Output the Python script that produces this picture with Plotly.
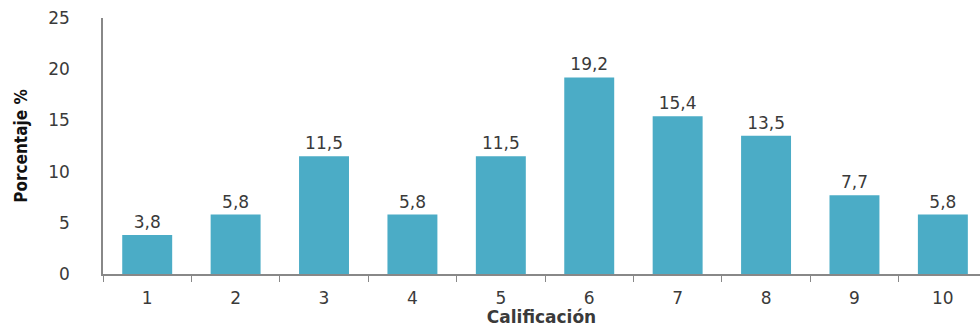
import plotly.graph_objects as go

# Distribución de calificaciones (porcentaje de respuestas)
calificaciones = ["1", "2", "3", "4", "5", "6", "7", "8", "9", "10"]
porcentajes = [3.8, 5.8, 11.5, 5.8, 11.5, 19.2, 15.4, 13.5, 7.7, 5.8]
y_ticks = [0, 5, 10, 15, 20, 25]

bar_color = "#4BACC6"
axis_color = "#888888"
text_color = "#3a3a3a"

fig = go.Figure(
    go.Bar(
        x=calificaciones,
        y=porcentajes,
        marker=dict(color=bar_color, line=dict(width=0)),
        texttemplate="%{y:.1f}",
        textposition="outside",
        textfont=dict(family="DejaVu Sans", size=17, color=text_color),
        cliponaxis=False,
    )
)

fig.update_layout(
    width=980,
    height=327,
    margin=dict(l=103, r=0, t=18, b=53),
    paper_bgcolor="white",
    plot_bgcolor="white",
    separators=", ",
    bargap=0.435,
    showlegend=False,
    xaxis=dict(
        type="category",
        range=[-0.5, 9.42],
        automargin=False,
        showline=True,
        linecolor=axis_color,
        linewidth=1.5,
        ticks="outside",
        tickson="boundaries",
        ticklen=6,
        tickcolor=axis_color,
        showgrid=False,
        ticklabelstandoff=8,
        tickfont=dict(family="DejaVu Sans", size=17, color=text_color),
        title=dict(
            text="<b>Calificación</b>",
            font=dict(family="DejaVu Sans", size=17, color=text_color),
            standoff=15,
        ),
    ),
    yaxis=dict(
        range=[0, 25],
        tickvals=y_ticks,
        automargin=False,
        showline=True,
        linecolor=axis_color,
        linewidth=1.5,
        showgrid=False,
        zeroline=False,
        ticks="",
        ticklabelstandoff=28,
        tickfont=dict(family="DejaVu Sans", size=17, color=text_color),
        title=dict(
            text="<b>Porcentaje %</b>",
            font=dict(family="DejaVu Sans Condensed", size=17, color="#111111"),
            standoff=16,
        ),
    ),
)

fig.write_html("out.html")
